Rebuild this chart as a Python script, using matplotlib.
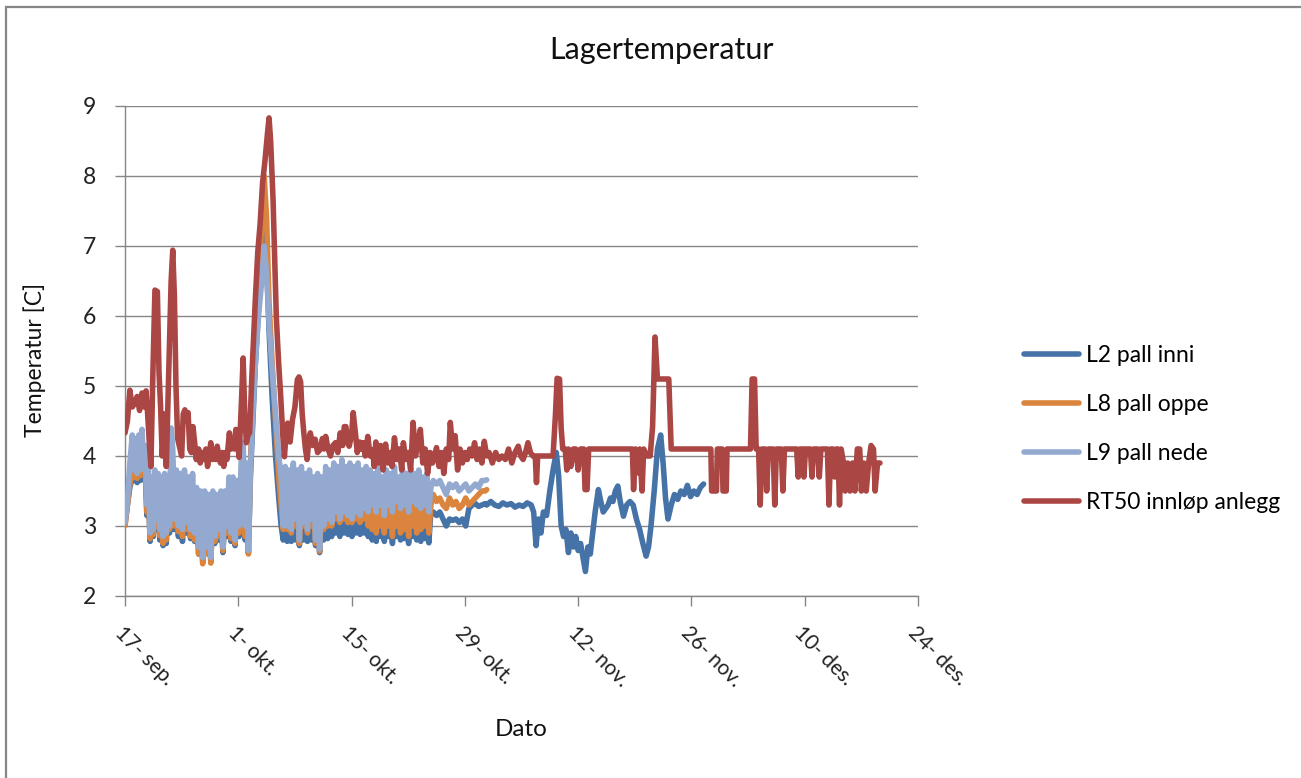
import matplotlib
matplotlib.use('Agg')
import matplotlib.pyplot as plt
from matplotlib.patches import Rectangle
from matplotlib.lines import Line2D

plt.rcParams['font.family'] = ['Lato', 'DejaVu Sans']

# x = days after 17 Sep
tick_days = [0, 14, 28, 42, 56, 70, 84, 98]
tick_labels = ['17- sep.', '1- okt.', '15- okt.', '29- okt.', '12- nov.',
               '26- nov.', '10- des.', '24- des.']
y_ticks = [2, 3, 4, 5, 6, 7, 8, 9]
series_names = ['L2 pall inni', 'L8 pall oppe', 'L9 pall nede', 'RT50 innløp anlegg']

# shared time grid for the three pallet loggers (until L8/L9 stop)
pall_days = [0.0, 0.3, 0.6, 0.9, 1.1, 1.3, 1.5, 1.7, 1.9, 2.1, 2.3, 2.5, 2.7, 2.9, 3.1,
             3.3, 3.5, 3.7, 3.9, 4.1, 4.3, 4.5, 4.7, 4.9, 5.1, 5.3, 5.5, 5.7, 5.9, 6.1,
             6.35, 6.6, 6.85, 7.1, 7.35, 7.6, 7.85, 8.1, 8.35, 8.6, 8.85, 9.1, 9.35, 9.6,
             9.85, 10.1, 10.35, 10.6, 10.85, 11.1, 11.35, 11.6, 11.85, 12.1, 12.35, 12.6,
             12.85, 13.1, 13.35, 13.6, 13.85, 14.1, 14.35, 14.6, 14.85, 15.05, 15.25,
             15.5, 15.8, 16.1, 16.5, 16.9, 17.2, 17.5, 17.8, 18.2, 18.6, 19.0, 19.3,
             19.55, 19.8, 20.05, 20.3, 20.55, 20.8, 21.05, 21.3, 21.55, 21.8, 22.05, 22.3,
             22.55, 22.8, 23.05, 23.3, 23.55, 23.8, 24.05, 24.3, 24.55, 24.8, 25.05, 25.3,
             25.55, 25.8, 26.05, 26.3, 26.55, 26.8, 27.05, 27.3, 27.55, 27.8, 28.05, 28.3,
             28.55, 28.8, 29.05, 29.3, 29.55, 29.8, 30.05, 30.3, 30.55, 30.8, 31.05, 31.3,
             31.55, 31.8, 32.05, 32.3, 32.55, 32.8, 33.05, 33.3, 33.55, 33.8, 34.05, 34.3,
             34.55, 34.8, 35.05, 35.3, 35.55, 35.8, 36.05, 36.3, 36.55, 36.8, 37.05, 37.3,
             37.55, 37.8,
             38.1, 38.5, 38.9, 39.3, 39.7, 40.1, 40.5, 40.9, 41.3, 41.7, 42.1, 42.5, 42.9,
             43.3, 43.7, 44.1, 44.5, 44.7]

l9_vals = [3.05, 3.35, 3.9, 4.3, 3.8, 4.25, 3.75, 4.3, 3.8, 4.38, 3.85, 4.15, 3.3, 3.85, 2.9,
           3.7, 2.95, 3.8, 3.1, 3.75, 2.95, 3.7, 2.85, 3.75, 2.9, 3.6, 3.0, 4.4, 4.1, 3.1,
           3.8, 3.0, 3.75, 2.95, 3.8, 3.05, 3.7, 2.95, 3.75, 2.9, 3.55, 2.7, 3.5, 2.55,
           3.5, 2.7, 3.45, 2.55, 3.5, 2.85, 3.45, 2.95, 3.5, 2.7, 3.5, 3.0,
           3.7, 2.9, 3.7, 2.8, 3.65, 3.0, 3.9, 4.2, 3.0, 3.9, 2.65,
           3.8, 4.6, 5.3, 6.0, 6.5, 7.0, 6.6, 5.9, 5.2, 4.6, 4.0, 3.7,
           3.0, 3.85, 3.0, 3.8, 2.95, 3.9, 3.1, 3.8, 2.8, 3.85, 3.05, 3.75,
           2.95, 3.8, 3.1, 3.7, 2.8, 3.75, 2.67, 3.7, 3.0, 3.85, 3.1, 3.8,
           3.05, 3.9, 3.2, 3.85, 3.1, 3.95, 3.2, 3.85, 3.15, 3.9, 3.1, 3.85,
           3.2, 3.9, 3.15, 3.8, 3.25, 3.85, 3.2, 3.8, 3.3, 3.75, 3.2, 3.85,
           3.3, 3.7, 3.15, 3.8, 3.3, 3.75, 3.2, 3.85, 3.35, 3.7, 3.25, 3.8,
           3.3, 3.75, 3.2, 3.8, 3.35, 3.75, 3.3, 3.8, 3.25, 3.7, 3.3, 3.75,
           3.2, 3.55,
           3.65, 3.6, 3.65, 3.55, 3.45, 3.6, 3.55, 3.6, 3.5, 3.55, 3.6, 3.5, 3.55,
           3.6, 3.55, 3.65, 3.65, 3.66]

l8_vals = [3.0, 3.3, 3.6, 3.75, 3.7, 3.8, 3.68, 3.85, 3.72, 3.9, 3.75, 3.85, 3.2, 3.5, 2.82,
           3.4, 2.88, 3.5, 3.0, 3.5, 2.86, 3.4, 2.75, 3.4, 2.8, 3.3, 2.95, 4.1, 3.9, 3.0,
           3.5, 2.92, 3.4, 2.85, 3.45, 2.95, 3.4, 2.85, 3.45, 2.8, 3.3, 2.6, 3.2, 2.46,
           3.2, 2.6, 3.2, 2.47, 3.2, 2.78, 3.2, 2.85, 3.2, 2.65, 3.2, 2.9,
           3.4, 2.82, 3.4, 2.75, 3.4, 2.9, 3.6, 3.9, 2.85, 3.5, 2.6,
           3.9, 4.8, 5.6, 6.5, 7.3, 8.0, 7.4, 6.2, 5.3, 4.5, 3.7, 3.3,
           2.95, 3.3, 2.95, 3.3, 2.9, 3.35, 3.0, 3.3, 2.75, 3.35, 3.0, 3.3,
           2.9, 3.35, 3.0, 3.25, 2.75, 3.3, 2.64, 3.3, 2.95, 3.35, 3.0, 3.3,
           3.0, 3.35, 3.1, 3.35, 3.05, 3.4, 3.1, 3.35, 3.05, 3.4, 3.05, 3.35,
           3.1, 3.4, 3.05, 3.3, 3.1, 3.4, 3.0, 3.45, 2.95, 3.4, 2.9, 3.45,
           3.0, 3.35, 2.9, 3.45, 3.0, 3.4, 2.85, 3.45, 3.0, 3.4, 2.9, 3.45,
           2.95, 3.4, 2.85, 3.45, 3.0, 3.4, 2.9, 3.45, 2.95, 3.35, 3.0, 3.4,
           2.9, 3.3,
           3.45, 3.35, 3.4, 3.3, 3.25, 3.4, 3.3, 3.35, 3.25, 3.3, 3.4, 3.3, 3.35,
           3.4, 3.45, 3.5, 3.5, 3.52]

l2_vals = [3.02, 3.3, 3.55, 3.7, 3.65, 3.75, 3.62, 3.8, 3.65, 3.85, 3.7, 3.8, 3.15, 3.45, 2.78,
           3.35, 2.85, 3.45, 2.95, 3.45, 2.8, 3.35, 2.72, 3.3, 2.75, 3.3, 2.9, 4.0, 3.8, 2.95,
           3.4, 2.85, 3.35, 2.78, 3.4, 2.9, 3.35, 2.82, 3.4, 2.78, 3.25, 2.6, 3.2, 2.5,
           3.15, 2.62, 3.15, 2.5, 3.2, 2.75, 3.15, 2.8, 3.2, 2.62, 3.15, 2.85,
           3.35, 2.78, 3.35, 2.72, 3.3, 2.85, 3.5, 3.8, 2.8, 3.4, 2.62,
           3.7, 4.5, 5.3, 6.1, 6.8, 7.3, 6.8, 5.8, 4.8, 4.0, 3.4, 3.0,
           2.8, 3.1, 2.78, 3.05, 2.78, 3.1, 2.8, 3.05, 2.72, 3.1, 2.8, 3.05,
           2.78, 3.1, 2.8, 3.0, 2.72, 3.05, 2.62, 3.05, 2.8, 3.05, 2.82, 3.0,
           2.85, 3.05, 2.9, 3.05, 2.85, 3.1, 2.9, 3.05, 2.88, 3.1, 2.85, 3.05,
           2.9, 3.1, 2.88, 3.0, 2.9, 3.1, 2.85, 3.15, 2.8, 3.1, 2.78, 3.15,
           2.85, 3.05, 2.78, 3.1, 2.85, 3.05, 2.75, 3.15, 2.85, 3.1, 2.8, 3.1,
           2.82, 3.1, 2.75, 3.15, 2.85, 3.05, 2.8, 3.1, 2.78, 3.05, 2.82, 3.1,
           2.76, 3.2,
           3.2, 3.15, 3.2, 3.1, 3.0, 3.1, 3.08, 3.1, 3.05, 3.1, 3.0, 3.25, 3.3,
           3.32, 3.28, 3.3, 3.32, 3.3]

# L2 keeps logging after the other two pallet loggers stop
l2_ext_days = [45.2, 45.7, 46.2, 46.7, 47.2, 47.7, 48.2, 48.7, 49.2, 49.7,
               50.2, 50.5, 50.8, 51.1, 51.4, 51.7, 52.1, 52.5, 52.9, 53.3,
               53.6, 53.9, 54.2, 54.5, 54.8, 55.1, 55.4, 55.7, 56.0, 56.3,
               56.6, 56.9, 57.2, 57.5, 57.8, 58.1, 58.5, 58.8, 59.1, 59.4,
               59.7, 60.0, 60.3, 60.6, 60.9, 61.2, 61.6, 62.0, 62.4, 62.8,
               63.2, 63.6, 64.0, 64.4, 64.7, 65.0, 65.4, 65.8, 66.2, 66.5,
               66.8, 67.1, 67.5, 67.9, 68.3, 68.7, 69.1, 69.5, 69.9, 70.3,
               70.7, 71.1, 71.5]
l2_ext_vals = [3.35, 3.3, 3.28, 3.33, 3.3, 3.32, 3.27, 3.3, 3.28, 3.33,
               3.3, 3.2, 2.72, 3.1, 2.9, 3.2, 3.15, 3.5, 3.8, 4.05,
               3.7, 3.0, 2.85, 2.95, 2.62, 2.9, 2.7, 2.85, 2.65, 2.75,
               2.55, 2.35, 2.7, 2.6, 2.9, 3.2, 3.52, 3.35, 3.2, 3.25,
               3.3, 3.4, 3.35, 3.5, 3.57, 3.35, 3.14, 3.3, 3.35, 3.3,
               3.1, 2.95, 2.75, 2.57, 2.7, 3.0, 3.5, 4.1, 4.3, 3.9,
               3.4, 3.1, 3.3, 3.45, 3.38, 3.5, 3.45, 3.58, 3.42, 3.5,
               3.45, 3.55, 3.6]

rt50_days = [0.0, 0.3, 0.6, 0.9, 1.2, 1.5, 1.8, 2.1, 2.4, 2.6, 2.8, 3.0, 3.2, 3.45, 3.7,
             4.0, 4.2, 4.4, 4.6, 4.9, 5.1, 5.4, 5.7, 5.9, 6.1, 6.3, 6.5, 6.8, 7.0, 7.2,
             7.4, 7.6, 7.8, 8.0, 8.2, 8.4, 8.6, 8.8, 9.1, 9.3, 9.5, 9.8, 10.0, 10.2, 10.4,
             10.6, 10.8, 11.0, 11.2, 11.4, 11.6, 11.8, 12.0, 12.2, 12.4, 12.6, 12.9, 13.1,
             13.3, 13.5, 13.7, 13.9, 14.1, 14.4, 14.6, 14.8, 15.0, 15.2, 15.4, 15.7, 16.1,
             16.4, 16.7, 17.0, 17.3, 17.6, 17.8, 18.0, 18.3, 18.7, 19.0, 19.2, 19.5, 19.7,
             19.9, 20.1, 20.4, 20.7, 21.0, 21.3, 21.5, 21.7, 21.9, 22.1, 22.3, 22.5, 22.7,
             22.9, 23.2, 23.5, 23.8, 24.1, 24.4, 24.6, 24.8, 25.1, 25.4, 25.7, 26.0, 26.3,
             26.6, 26.9, 27.1, 27.3, 27.5, 27.7, 28.0, 28.2, 28.5, 28.7, 29.0, 29.2, 29.4,
             29.7, 30.0, 30.3, 30.6, 30.8, 31.0, 31.3, 31.6, 31.9, 32.2, 32.5, 32.8, 33.0,
             33.3, 33.6, 33.9, 34.2, 34.4, 34.7, 35.0, 35.3, 35.6, 35.9, 36.2, 36.5, 36.8,
             37.1, 37.4, 37.7, 38.0, 38.5, 38.8, 39.1, 39.4, 39.7, 40.0, 40.2, 40.5, 40.8,
             41.1, 41.4, 41.7, 42.0, 42.3, 42.6, 42.9, 43.2, 43.5, 43.8, 44.1, 44.4, 44.7,
             45.0, 45.4, 45.8, 46.2, 46.6, 47.0, 47.4, 47.8, 48.2, 48.6, 48.9, 49.2, 49.5,
             49.8, 50.1, 50.4, 50.7, 50.85, 51.0, 52.9, 53.2, 53.4, 53.7, 53.9, 54.1, 54.4,
             54.6, 54.8, 55.1, 55.4, 55.7, 56.0, 56.3, 56.7, 56.85, 57.1, 57.3, 62.7, 62.85,
             63.1, 63.4, 63.6, 63.9, 64.1, 64.5, 64.9, 65.2, 65.5, 65.8, 67.2, 67.5, 72.4,
             72.5, 73.1, 73.2, 73.8, 73.9, 74.3, 74.4, 77.3, 77.5, 77.8, 78.0, 78.3, 78.5,
             78.7, 79.1, 79.3, 79.5, 80.1, 80.3, 80.5, 81.1, 81.3, 81.5, 83.0, 83.2, 83.4,
             83.8, 83.9, 84.1, 84.7, 84.9, 85.1, 85.6, 85.8, 86.0, 86.8, 87.0, 87.2, 87.5,
             87.7, 87.9, 88.1, 88.3, 88.5, 88.8, 89.0, 89.3, 89.6, 89.9, 90.2, 90.5, 90.8,
             91.0, 91.3, 91.6, 91.9, 92.2, 92.5, 92.7, 93.0, 93.3]
rt50_vals = [4.33, 4.5, 4.94, 4.7, 4.75, 4.85, 4.65, 4.9, 4.7, 4.93, 4.6, 4.2, 3.85, 5.2, 6.37,
             6.35, 5.2, 4.7, 4.0, 4.6, 3.85, 5.2, 6.5, 6.94, 6.3, 5.0, 4.25, 4.1, 4.0, 4.6,
             4.66, 4.5, 4.62, 4.1, 4.05, 4.42, 4.2, 3.95, 4.1, 3.9, 4.05, 3.95, 4.1, 3.85, 4.0,
             4.19, 3.95, 4.05, 3.95, 4.14, 4.0, 3.9, 4.05, 3.85, 4.05, 3.95, 4.33, 4.1,
             4.24, 4.1, 4.38, 4.2, 3.98, 4.8, 5.4, 4.6, 4.19, 4.3, 4.33, 5.2, 6.22,
             6.9, 7.32, 7.9, 8.22, 8.6, 8.83, 8.5, 7.65, 5.98, 5.3, 4.94, 4.3, 3.99,
             4.3, 4.47, 4.2, 4.52, 4.7, 5.09, 5.13, 5.06, 4.6, 4.33, 4.1, 3.95, 4.2,
             4.33, 4.15, 4.24, 4.05, 4.09, 4.25, 4.1, 4.28, 4.1, 4.0, 4.15, 4.19, 4.05,
             4.33, 4.15, 4.42, 4.42, 4.2, 4.14, 4.3, 4.62, 4.3, 4.05, 4.2, 4.1, 4.19,
             4.0, 4.28, 4.0, 4.09, 3.85, 4.2, 3.9, 4.15, 3.8, 4.17, 3.9, 4.05, 3.85,
             4.26, 3.95, 4.1, 3.8, 4.19, 3.95, 4.05, 3.8, 4.48, 4.0, 4.2, 4.38, 3.9,
             4.1, 3.75, 4.05, 3.9, 4.12, 3.85, 4.05, 3.75, 4.1, 3.95, 4.48, 4.1, 4.29,
             3.8, 4.1, 3.9, 4.05, 3.95, 4.1, 4.0, 4.19, 3.95, 4.1, 3.9, 4.21, 4.0,
             4.05, 3.9, 4.05, 3.95, 4.0, 3.95, 4.1, 3.9, 4.05, 4.14, 4.0, 3.95, 4.05,
             4.19, 4.05, 4.0, 4.0, 3.62, 4.0, 4.0, 4.6, 5.11, 5.1, 4.4, 4.1, 4.1,
             3.8, 4.1, 3.85, 4.1, 4.1, 3.8, 4.1, 4.1, 3.52, 3.52, 4.1, 4.1, 3.52,
             4.1, 3.76, 4.1, 3.5, 4.1, 4.0, 4.0, 4.42, 5.7, 5.1, 5.1, 4.1, 4.1,
             3.5, 3.5, 4.1, 4.1, 3.5, 3.5, 4.1, 4.1, 5.1, 5.1, 4.1, 4.1, 3.3,
             4.1, 4.1, 3.5, 4.1, 4.1, 3.3, 4.1, 4.1, 3.5, 4.1, 4.1, 3.7, 4.1,
             4.1, 3.7, 4.1, 4.1, 3.7, 4.1, 4.1, 3.7, 4.1, 4.1, 3.3, 4.1, 4.1,
             3.7, 4.1, 4.1, 3.3, 4.1, 3.9, 3.5, 3.9, 3.5, 3.9, 3.5, 4.1, 4.1,
             3.5, 3.9, 3.5, 3.9, 4.15, 4.1, 3.5, 3.9, 3.9]

colors = ['#4572A7', '#DB843D', '#93A9CF', '#AA4643']
grey = '#868686'
lw = 4.0

W, H = 1301, 778
fig = plt.figure(figsize=(W / 100, H / 100), dpi=100)
# chart-area border (Excel style)
fig.patches.append(Rectangle((6 / W, -0.05), 1.1, 1 - 7 / H + 0.05, transform=fig.transFigure,
                             fill=False, ec=grey, lw=1.6))

ax = fig.add_axes([125 / W, 1 - 596 / H, 793 / W, 490 / H])
ax.plot(pall_days + l2_ext_days, l2_vals + l2_ext_vals, color=colors[0], lw=lw,
        solid_joinstyle='round', solid_capstyle='round', zorder=3)
ax.plot(pall_days, l8_vals, color=colors[1], lw=lw,
        solid_joinstyle='round', solid_capstyle='round', zorder=4)
ax.plot(pall_days, l9_vals, color=colors[2], lw=lw,
        solid_joinstyle='round', solid_capstyle='round', zorder=5)
ax.plot(rt50_days, rt50_vals, color=colors[3], lw=lw,
        solid_joinstyle='round', solid_capstyle='round', zorder=6)

ax.set_xlim(0, 98)
ax.set_ylim(2, 9)
ax.set_yticks(y_ticks)
ax.set_yticklabels([str(v) for v in y_ticks], fontsize=16.5, color='#222222')
ax.set_xticks(tick_days)
ax.set_xticklabels(tick_labels, fontsize=15, color='#222222', rotation=-45,
                   ha='left', va='top', rotation_mode='anchor')
ax.tick_params(axis='both', direction='out', length=7, width=1.0, color=grey)
ax.tick_params(axis='y', pad=14)
ax.tick_params(axis='x', pad=12)
ax.yaxis.grid(True, color=grey, lw=1.0)
ax.set_axisbelow(True)
for s in ['top', 'right']:
    ax.spines[s].set_visible(False)
for s in ['left', 'bottom']:
    ax.spines[s].set_color(grey)
    ax.spines[s].set_linewidth(1.0)

fig.text(661 / W, 1 - 50 / H, 'Lagertemperatur', ha='center', va='center', fontsize=22, color='#111111')
fig.text(35 / W, 1 - 360 / H, 'Temperatur [C]', ha='center', va='center', rotation=90,
         fontsize=16.5, color='#111111')
fig.text(521 / W, 1 - 730 / H, 'Dato', ha='center', va='center', fontsize=17.5, color='#111111')

handles = [Line2D([], [], color=c, lw=lw, solid_capstyle='round') for c in colors]
fig.legend(handles, series_names, loc='upper left', bbox_to_anchor=(1024 / W, 1 - 345 / H),
           frameon=False, fontsize=16.5, handlelength=2.4, handletextpad=0.3,
           labelspacing=1.22, borderpad=0, borderaxespad=0)

fig.savefig('out.png', dpi=100)
